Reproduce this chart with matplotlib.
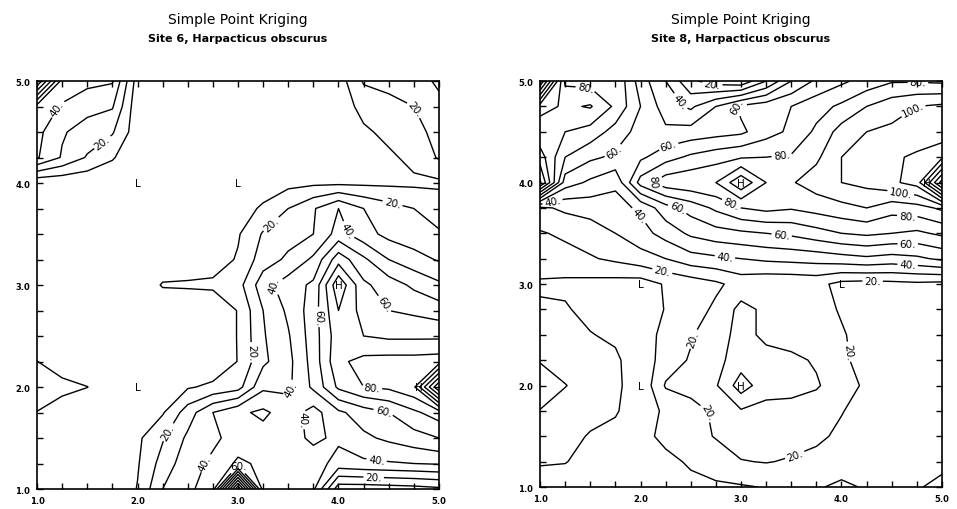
import numpy as np
import matplotlib
matplotlib.use("Agg")
import matplotlib.pyplot as plt
from matplotlib.ticker import MultipleLocator, FormatStrFormatter

# kriging grid, 0.25 spacing; rows go from y=5.0 (top) down to y=1.0
grid_x = [1.0, 1.25, 1.5, 1.75, 2.0, 2.25, 2.5, 2.75, 3.0, 3.25, 3.5, 3.75, 4.0, 4.25, 4.5, 4.75, 5.0]
grid_y = [5.0, 4.75, 4.5, 4.25, 4.0, 3.75, 3.5, 3.25, 3.0, 2.75, 2.5, 2.25, 2.0, 1.75, 1.5, 1.25, 1.0]

site6_z = [
    [100, 46, 43, 41, 5, 2, 1, 1, 1, 1, 1, 2, 5, 21, 22, 25, 32],
    [46, 39, 33, 31, 3, 1, 1, 1, 1, 1, 1, 1, 3, 14, 18, 20, 27],
    [43, 31, 26, 21, 4, 1, 1, 1, 1, 1, 1, 1, 2, 8, 13, 16, 24],
    [41, 29, 19, 11, 2, 1, 1, 1, 1, 1, 1, 1, 1, 3, 8, 13, 21],
    [2, 2, 2, 2, 1, 1, 1, 1, 1, 3, 7, 8, 8, 8, 8, 8, 8],
    [1, 1, 1, 1, 1, 1, 1, 1, 4, 12, 20, 29, 40, 30, 24, 20, 16],
    [1, 1, 1, 1, 1, 1, 1, 1, 9, 21, 26, 30, 44, 34, 27, 24, 21],
    [1, 1, 1, 1, 1, 2, 3, 5, 11, 25, 32, 42, 66, 52, 40, 34, 29],
    [1, 1, 1, 1, 1, 11, 11.5, 12, 16, 36, 45, 52, 88, 62, 55, 48, 42],
    [1, 1, 1, 1, 1, 1, 1, 2, 10.5, 30, 42, 55, 80, 66, 60, 58, 55],
    [1, 1, 1, 1, 1, 1, 1, 2, 10.5, 29, 39, 55, 76, 70, 68, 68, 68],
    [10.3, 1, 1, 1, 1, 1, 2, 3, 10.3, 28, 37, 54, 78, 83, 84, 84, 85],
    [20, 15, 10.2, 3, 1, 3, 9, 12, 16, 38, 38, 52, 72, 80, 82, 88, 140],
    [9.5, 1, 1, 1, 2, 9, 25, 40, 48, 52, 45, 36, 48, 55, 60, 68, 75],
    [1, 1, 1, 1, 8, 19, 32, 38, 44, 46, 44, 38, 42, 48, 52, 56, 60],
    [1, 1, 1, 1, 9, 24, 36, 42, 52, 48, 46, 45, 36, 38, 39, 40, 41],
    [1, 1, 1, 1, 10.5, 30, 38, 45, 140, 45, 44, 42, 4, 4, 5, 6, 8],
]

site8_z = [
    [150, 78, 76, 79, 55, 40, 22, 15, 12, 30, 50, 62, 68, 74, 79, 79, 78],
    [95, 88, 91, 78, 60, 45, 38, 50, 62, 66, 70, 76, 82, 90, 96, 100, 102],
    [82, 80, 76, 66, 56, 52, 54, 56, 58, 66, 72, 82, 94, 100, 102, 103, 104],
    [95, 70, 62, 58, 58, 66, 72, 76, 79, 80, 81, 88, 100, 104, 108, 112, 118],
    [112, 55, 48, 42, 74, 86, 88, 90, 108, 90, 89, 95, 100, 103, 108, 114, 165],
    [28, 32, 34, 36, 42, 56, 64, 72, 80, 83, 81, 84, 87, 90, 84, 86, 92],
    [19, 22, 25, 30, 36, 44, 52, 56, 58, 60, 62, 66, 70, 72, 70, 68, 72],
    [14, 16, 19, 22, 26, 30, 36, 38, 40, 42, 43, 44, 46, 48, 46, 48, 52],
    [9, 8, 7, 6, 5, 11, 14, 18, 24, 22, 22, 23, 17, 16, 17, 18, 17],
    [11, 11, 7, 5, 4, 10.5, 15, 22, 33, 28, 26, 24, 19, 15, 14, 14, 14],
    [12, 12, 10.5, 8, 3, 14, 19, 26, 33, 28, 26, 25, 21, 16, 14, 14, 14],
    [19, 14, 13, 12, 3, 15, 21, 27, 35, 33, 32, 29, 22, 16, 14, 14, 14],
    [28, 20.5, 14, 13, 2, 21, 24, 29, 45, 34, 33, 31, 25, 18, 15, 14, 15],
    [19.5, 14, 12, 11, 4, 12, 16, 22, 29, 27, 27, 25, 20.5, 16, 14, 13, 13],
    [13, 12, 9.5, 7, 5, 14, 17, 20.5, 25, 25, 24, 22, 18, 15, 13, 13, 13],
    [11, 10.5, 6, 4, 4, 6, 12, 16, 19.5, 20.5, 19, 17, 15, 14, 13, 12, 13],
    [5, 4, 3, 3, 3, 4, 6, 8, 9, 10.5, 12, 11, 8, 11, 12, 11, 7],
]

plain_levels = [10, 30, 50, 70, 90, 110, 130, 150]
label_levels = [20, 40, 60, 80, 100, 120, 140, 160]

# highs / lows written by the kriging program
site6_marks = [("L", 2.0, 4.0), ("L", 3.0, 4.0), ("L", 2.0, 2.0), ("H", 4.0, 3.0), ("H", 4.8, 2.0)]
site8_marks = [("H", 3.0, 4.0), ("H", 4.85, 4.0), ("L", 2.0, 3.0), ("L", 4.0, 3.0), ("L", 2.0, 2.0), ("H", 3.0, 2.0)]

site6_labels = [(1.18, 4.74), (1.65, 4.4), (4.79, 4.74), (4.54, 3.81), (3.3, 3.63), (4.08, 3.53),
                (3.32, 3.03), (3.87, 2.69), (4.48, 2.83), (3.14, 2.34), (3.47, 2.0), (4.33, 1.96),
                (4.45, 1.77), (3.69, 1.69), (2.25, 1.59), (2.62, 1.29), (4.38, 1.29), (4.35, 1.12),
                (3.02, 1.26)]
site8_labels = [(1.45, 4.86), (1.7, 4.37), (2.34, 4.76), (2.71, 4.95), (2.88, 4.73), (3.41, 4.23),
                (4.76, 4.65), (4.76, 4.96), (2.28, 4.35), (2.05, 4.03), (2.93, 3.85), (4.6, 3.96),
                (4.66, 3.77), (2.38, 3.78), (3.41, 3.53), (1.96, 3.65), (4.66, 3.37), (4.66, 3.22),
                (2.83, 3.18), (1.15, 3.69), (2.21, 3.1), (4.31, 3.05), (2.52, 2.46), (4.05, 2.33),
                (2.69, 1.74), (3.52, 1.35)]


def plot_site(ax, z, marks, lab_pos, title_, subtitle_):
    X, Y = np.meshgrid(grid_x, grid_y)
    Z = np.array(z, dtype=float)
    ax.contour(X, Y, Z, levels=plain_levels, colors="black", linewidths=1.0)
    cs = ax.contour(X, Y, Z, levels=label_levels, colors="black", linewidths=1.0)
    ax.clabel(cs, manual=lab_pos, fmt=lambda v: "%d." % v,
              inline=True, inline_spacing=2, fontsize=7.5)
    for t, x, y in marks:
        ax.text(x, y, t, fontsize=7.5, ha="center", va="center")

    ax.set_xlim(1, 5)
    ax.set_ylim(1, 5)
    ax.xaxis.set_major_locator(MultipleLocator(1))
    ax.yaxis.set_major_locator(MultipleLocator(1))
    ax.xaxis.set_minor_locator(MultipleLocator(0.25))
    ax.yaxis.set_minor_locator(MultipleLocator(0.25))
    ax.xaxis.set_major_formatter(FormatStrFormatter("%.1f"))
    ax.yaxis.set_major_formatter(FormatStrFormatter("%.1f"))
    ax.tick_params(which="both", direction="in", top=True, right=True, length=4, width=1.0,
                   labelsize=6, pad=5)
    for lbl in ax.get_xticklabels() + ax.get_yticklabels():
        lbl.set_fontweight("bold")
    for s in ax.spines.values():
        s.set_linewidth(1.2)

    ax.text(0.5, 1.152, title_, transform=ax.transAxes, ha="center", va="center", fontsize=10)
    ax.text(0.5, 1.105, subtitle_, transform=ax.transAxes, ha="center", va="center",
            fontsize=8, fontweight="bold")


fig = plt.figure(figsize=(9.57, 5.1), dpi=100)
ax1 = fig.add_axes([0.0387, 0.0392, 0.42, 0.80])
ax2 = fig.add_axes([0.5643, 0.0431, 0.42, 0.796])

plot_site(ax1, site6_z, site6_marks, site6_labels, "Simple Point Kriging", "Site 6, Harpacticus obscurus")
plot_site(ax2, site8_z, site8_marks, site8_labels, "Simple Point Kriging", "Site 8, Harpacticus obscurus")

fig.savefig("out.png", dpi=100)
